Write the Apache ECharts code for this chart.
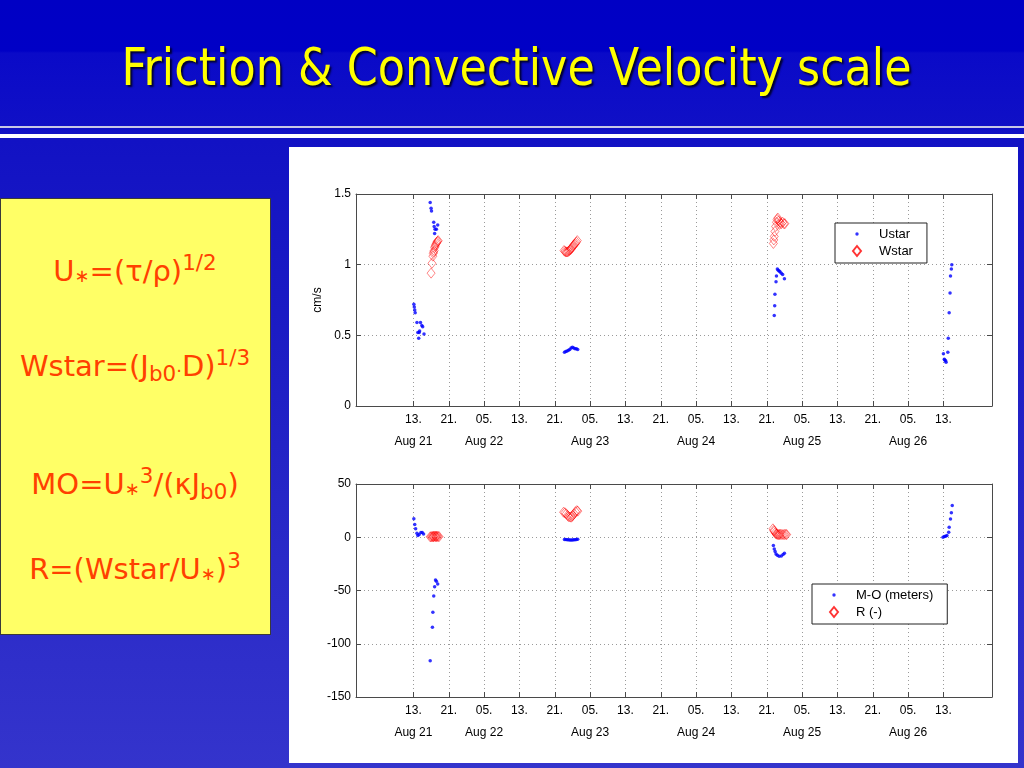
<!DOCTYPE html>
<html>
<head>
<meta charset="utf-8">
<title>Friction &amp; Convective Velocity scale</title>
<script src="https://cdn.jsdelivr.net/npm/echarts@6/dist/echarts.min.js"></script>
<style>
html,body{margin:0;padding:0;width:1024px;height:768px;overflow:hidden;}
body{position:relative;background:linear-gradient(180deg,#0000c4 0px,#0000c6 51px,#0a0ac8 53px,#1010c6 126px,#1212c4 140px,#1c1cc4 330px,#2a2ac8 560px,#3434cc 768px);}
#title{position:absolute;left:5px;top:42px;width:1024px;text-align:center;height:60px;}
#title span{display:inline-block;font-family:'DejaVu Sans Condensed','DejaVu Sans',sans-serif;font-size:51px;line-height:51px;color:#ffff00;text-shadow:2px 2px 2px #000030;white-space:nowrap;transform-origin:50% 50%;}
.rule1{position:absolute;left:0;top:126px;width:1024px;height:2px;background:#c8c8e6;}
.rule2{position:absolute;left:0;top:134px;width:1024px;height:4px;background:#ffffff;}
#box{position:absolute;left:0;top:198px;width:269px;height:435px;background:#ffff66;border:1px solid #3a3a3a;}
.f{position:absolute;left:0;width:270px;text-align:center;font-family:'DejaVu Sans','DejaVu Sans Condensed',sans-serif;font-size:29px;line-height:29px;color:#ff4000;white-space:nowrap;}
.f sub,.f sup{font-size:0.74em;line-height:0;}
.f sub{vertical-align:-0.22em;}
.f sub.s{font-size:0.62em;vertical-align:-0.05em;}
.f sup{vertical-align:0.5em;}
#panel{position:absolute;left:289px;top:147px;width:729px;height:616px;background:#ffffff;}
</style>
</head>
<body>
<div id="title"><span id="titleText">Friction &amp; Convective Velocity scale</span></div>
<div class="rule1"></div>
<div class="rule2"></div>
<div id="box"></div>
<div class="f" style="top:257px">U<sub class="s">∗</sub>=(τ/ρ)<sup>1/2</sup></div>
<div class="f" style="top:352px">Wstar=(J<sub>b0</sub><sub class="s">·</sub>D)<sup>1/3</sup></div>
<div class="f" style="top:470px">MO=U<sub class="s">∗</sub><sup>3</sup>/(κJ<sub>b0</sub>)</div>
<div class="f" style="top:555px">R=(Wstar/U<sub class="s">∗</sub>)<sup>3</sup></div>
<div id="panel"></div>
<script>
// ---- tick definitions (hours since Aug 21 00:00) ----
const xTickHours = [13,21,29,37,45,53,61,69,77,85,93,101,109,117,125,133];
const xTickLabels = ['13.','21.','05.','13.','21.','05.','13.','21.','05.','13.','21.','05.','13.','21.','05.','13.'];
const xDateLabels = ['Aug 21','','Aug 22','','','Aug 23','','','Aug 24','','','Aug 25','','','Aug 26',''];

// ---- top panel: velocity scales (cm/s) ----
const ustar = [
  [13.1,0.72],[13.2,0.70],[13.3,0.68],[13.4,0.66],[13.8,0.59],[14.0,0.52],[14.2,0.48],[14.3,0.52],[14.4,0.53],[14.6,0.59],[14.9,0.57],[15.1,0.56],[15.4,0.51],
  [16.8,1.44],[17.0,1.40],[17.1,1.38],[17.6,1.30],[17.7,1.27],[17.9,1.25],[17.8,1.22],[18.2,1.25],[18.5,1.28],
  [47.2,0.38],[47.5,0.385],[47.8,0.39],[48.1,0.395],[48.4,0.40],[48.7,0.41],[49.0,0.415],[49.3,0.41],[49.6,0.405],[49.9,0.405],[50.2,0.40],
  [94.7,0.64],[94.8,0.71],[94.85,0.79],[95.1,0.88],[95.2,0.92],[95.4,0.97],[95.6,0.96],[95.8,0.955],[96.0,0.95],[96.3,0.94],[96.6,0.93],[97.0,0.90],
  [133.0,0.37],[133.2,0.33],[133.3,0.325],[133.5,0.32],[133.6,0.31],[134.0,0.38],[134.1,0.48],[134.3,0.66],[134.5,0.80],[134.6,0.92],[134.8,0.97],[134.9,1.00]
];
const wstar = [
  [17.0,0.94],[17.2,1.01],[17.4,1.06],[17.5,1.08],[17.6,1.09],[17.7,1.10],[17.8,1.12],[17.9,1.13],[18.0,1.14],[18.2,1.15],[18.3,1.16],[18.5,1.165],[18.6,1.17],
  [47.1,1.10],[47.3,1.095],[47.5,1.09],[47.7,1.09],[47.9,1.09],[48.1,1.095],[48.3,1.10],[48.5,1.105],[48.7,1.11],[48.9,1.12],[49.1,1.13],[49.3,1.14],[49.5,1.145],[49.7,1.15],[49.9,1.16],[50.1,1.17],
  [94.5,1.15],[94.6,1.175],[94.7,1.20],[94.85,1.235],[95.0,1.27],[95.2,1.30],[95.35,1.32],[95.5,1.33],[95.7,1.31],[95.9,1.285],[96.0,1.30],[96.3,1.29],[96.6,1.30],[96.9,1.29],[97.1,1.29]
];

// ---- bottom panel: Monin-Obukhov length and ratio ----
const moLength = [
  [13.1,17.3],[13.3,11.9],[13.5,7.9],[13.8,3.8],[14.0,1.6],[14.3,2.5],[14.7,4.4],[15.0,4.4],[15.3,3.1],
  [16.8,-116],[17.3,-84.6],[17.4,-70.5],[17.6,-55.2],[17.8,-46.4],[18.0,-40.1],[18.2,-41.4],[18.5,-43.9],
  [47.2,-2.0],[47.5,-2.2],[47.8,-2.3],[48.1,-2.4],[48.4,-2.5],[48.7,-2.5],[49.0,-2.5],[49.3,-2.4],[49.6,-2.3],[49.9,-2.2],[50.2,-1.8],
  [94.5,-7.8],[94.7,-11],[94.9,-13.4],[95.1,-15.7],[95.4,-16.9],[95.8,-17.8],[96.3,-17.5],[96.7,-16.3],[97.0,-15.1],
  [132.9,0.0],[133.2,0.6],[133.5,0.9],[133.8,1.6],[134.2,4.7],[134.3,9.4],[134.6,17.2],[134.8,22.9],[135.0,29.8]
];
const ratioR = [
  [16.8,0.4],[17.0,0.5],[17.2,0.6],[17.4,0.7],[17.6,0.8],[17.8,0.9],[18.0,1.0],[18.2,0.9],[18.4,0.8],[18.6,0.7],[18.8,0.6],[17.5,0.5],[18.1,0.4],
  [47.0,23.5],[47.3,23.0],[47.6,22.0],[47.9,20.5],[48.1,19.5],[48.4,19.0],[48.7,18.8],[48.9,19.5],[49.1,20.5],[49.4,22.0],[49.7,24.0],[50.0,25.0],[50.2,24.5],
  [94.4,7.9],[94.6,6.5],[94.7,5.6],[94.9,4.2],[95.1,3.1],[95.3,2.8],[95.5,2.6],[95.7,2.5],[95.9,2.6],[96.1,2.7],[96.4,2.6],[96.7,2.5],[97.0,2.6],[97.3,2.7],[97.5,2.5]
];

// fit the condensed title to its width in the slide
(function(){
  const s = document.getElementById('titleText');
  const w = s.getBoundingClientRect().width;
  s.style.transform = 'scaleX(' + (790 / w) + ')';
})();

const FONT = "'Liberation Sans', Arial, sans-serif";
const AXIS_COLOR = '#4a4a4a';
const GRID_LINE = {color:'#9a9a9a', type:[1,3], width:1};

function xAxisFor(g, pos){
  const bottom = pos === 'bottom';
  return {
    type:'value', gridIndex:g, position:pos, min:0, max:144,
    axisLine:{show:true, onZero:false, lineStyle:{color:AXIS_COLOR, width:1}},
    axisTick:{show:true, inside:true, length:5, customValues:xTickHours, lineStyle:{color:AXIS_COLOR}},
    axisLabel:{
      show:bottom, customValues:xTickHours, margin:3, lineHeight:22,
      fontSize:12, fontFamily:FONT, color:'#000',
      formatter:function(v){
        let i = -1;
        for (let k = 0; k < xTickHours.length; k++) { if (Math.abs(xTickHours[k] - v) < 1e-6) { i = k; } }
        if (i < 0) return '';
        return xDateLabels[i] ? xTickLabels[i] + '\n' + xDateLabels[i] : xTickLabels[i];
      }
    },
    splitLine:{show:bottom, lineStyle:GRID_LINE}
  };
}
function yAxisFor(g, pos, min, max, interval, name){
  const left = pos === 'left';
  return {
    type:'value', gridIndex:g, position:pos, min:min, max:max, interval:interval,
    name: left ? name : '', nameLocation:'middle', nameGap:28,
    nameTextStyle:{fontSize:12, fontFamily:FONT, color:'#000'},
    axisLine:{show:true, onZero:false, lineStyle:{color:AXIS_COLOR, width:1}},
    axisTick:{show:true, inside:true, length:5, lineStyle:{color:AXIS_COLOR}},
    axisLabel:{show:left, margin:5, fontSize:12, fontFamily:FONT, color:'#000'},
    splitLine:{show:left, lineStyle:GRID_LINE}
  };
}

const dotIcon = 'path://M0,0M28,14M9.3,7a1.7,1.7 0 1,0 3.4,0a1.7,1.7 0 1,0 -3.4,0Z';
const diamondIcon = 'path://M0,0M28,14M11,2L15,7L11,12L7,7Z';
function legendFor(names, left, top){
  return {
    data:[{name:names[0], icon:dotIcon},{name:names[1], icon:diamondIcon}],
    orient:'vertical', left:left, top:top,
    backgroundColor:'#ffffff', borderColor:'#222222', borderWidth:1, borderRadius:0,
    padding:[4,14,4,10], itemGap:2, itemWidth:28, itemHeight:14,
    selectedMode:false,
    textStyle:{fontSize:13, fontFamily:FONT, color:'#000', padding:[0,0,0,0]}
  };
}
const dotStyle = {color:'#0000ff'};
const diamondStyle = {color:'rgba(255,0,0,0)', borderColor:'#ff0000', borderWidth:0.6};

const chart = echarts.init(document.getElementById('panel'), null, {renderer:'canvas'});
chart.setOption({
  animation:false,
  backgroundColor:'#ffffff',
  grid:[
    {left:67, top:47, width:636, height:212},
    {left:67, top:337, width:636, height:213}
  ],
  xAxis:[xAxisFor(0,'bottom'), xAxisFor(0,'top'), xAxisFor(1,'bottom'), xAxisFor(1,'top')],
  yAxis:[yAxisFor(0,'left',0,1.5,0.5,'cm/s'), yAxisFor(0,'right',0,1.5,0.5,''),
         yAxisFor(1,'left',-150,50,50,''), yAxisFor(1,'right',-150,50,50,'')],
  legend:[legendFor(['Ustar','Wstar'],546,76), legendFor(['M-O (meters)','R (-)'],523,437)],
  series:[
    {name:'Ustar', type:'scatter', xAxisIndex:0, yAxisIndex:0, data:ustar, symbol:'circle', symbolSize:3.5, itemStyle:dotStyle, emphasis:{disabled:true}, z:3},
    {name:'Wstar', type:'scatter', xAxisIndex:0, yAxisIndex:0, data:wstar, symbol:'diamond', symbolSize:[8,10], itemStyle:diamondStyle, emphasis:{disabled:true}, z:2},
    {name:'M-O (meters)', type:'scatter', xAxisIndex:2, yAxisIndex:2, data:moLength, symbol:'circle', symbolSize:3.5, itemStyle:dotStyle, emphasis:{disabled:true}, z:3},
    {name:'R (-)', type:'scatter', xAxisIndex:2, yAxisIndex:2, data:ratioR, symbol:'diamond', symbolSize:[8,10], itemStyle:diamondStyle, emphasis:{disabled:true}, z:2}
  ]
});
</script>
</body>
</html>
